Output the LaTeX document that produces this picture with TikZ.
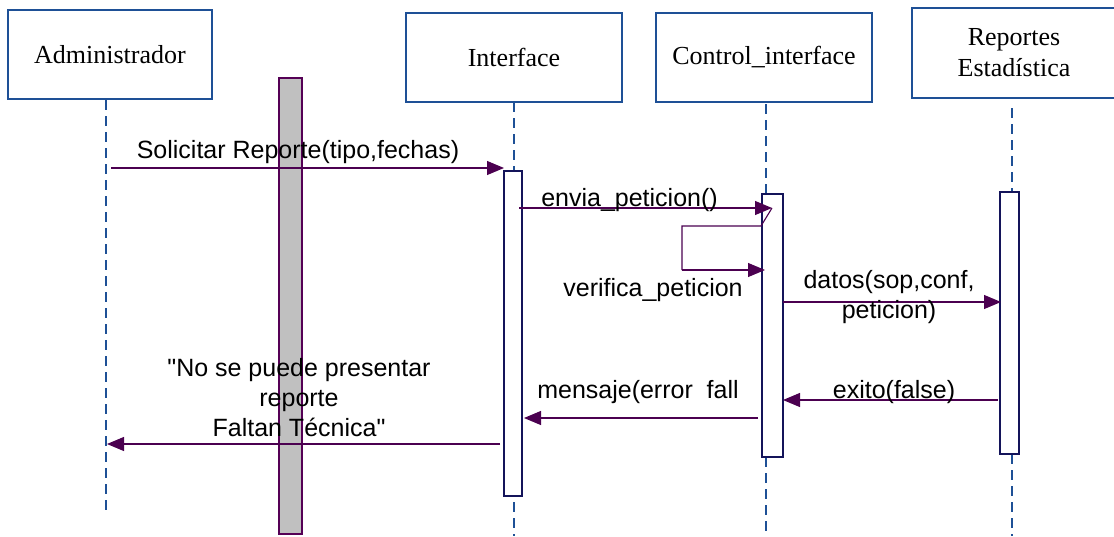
\documentclass[tikz,border=0pt]{standalone}
\usepackage{fontspec}
\setmainfont{Liberation Serif}
\newfontfamily\labelfont{Liberation Sans}[Ligatures=TeXOff]
\usetikzlibrary{arrows.meta}
\definecolor{boxblue}{RGB}{30,80,150}
\definecolor{actnavy}{RGB}{20,20,90}
\definecolor{msgpurple}{RGB}{75,0,80}
\definecolor{barborder}{RGB}{85,0,85}
\definecolor{bargray}{RGB}{192,192,192}
\tikzset{
  actor/.style={draw=boxblue, line width=1.3pt, fill=white, inner sep=0pt,
    font=\fontsize{26}{31}\selectfont\rmfamily, align=center},
  lifeline/.style={draw=boxblue, line width=1.2pt, dash pattern=on 10pt off 6pt},
  activation/.style={draw=actnavy, line width=1.2pt, fill=white, inner sep=0pt},
  msg/.style={draw=msgpurple, line width=1.1pt, -{Triangle[length=17pt,width=14pt]}},
  msgline/.style={draw=msgpurple, line width=1.1pt},
  lbl/.style={font=\fontsize{25}{30}\selectfont\labelfont, text=black, inner sep=0pt, align=center},
}
\begin{document}
\begin{tikzpicture}[x=1pt,y=-1pt]
\useasboundingbox (0,0) rectangle (1114,536);
\fill[white] (0,0) rectangle (1114,536);

% actor boxes
\node[actor, minimum width=204pt, minimum height=89pt] (admin) at (110,54.5) {Administrador};
\node[actor, minimum width=216pt, minimum height=89pt] (iface) at (514,57.5) {Interface};
\node[actor, minimum width=216pt, minimum height=89pt] (ctrl) at (764,57.5) {Control\_interface};
\node[actor, minimum width=204pt, minimum height=90pt] (rep) at (1014,53) {Reportes\\Estadística};

% lifeline coordinates
\coordinate (adminTop) at (106,100);
\coordinate (adminBot) at (106,513);
\coordinate (ifaceTop) at (514,102);
\coordinate (ifaceA) at (514,171);
\coordinate (ifaceB) at (514,502);
\coordinate (ifaceBot) at (514,536);
\coordinate (ctrlTop) at (766,104);
\coordinate (ctrlA) at (766,194);
\coordinate (ctrlB) at (766,457);
\coordinate (ctrlBot) at (766,536);
\coordinate (repTop) at (1012,108);
\coordinate (repA) at (1012,192);
\coordinate (repB) at (1012,454);
\coordinate (repBot) at (1012,536);

\draw[lifeline] (adminTop) -- (adminBot);
\draw[lifeline] (ifaceTop) -- (ifaceA);
\draw[lifeline] (ifaceB) -- (ifaceBot);
\draw[lifeline] (ctrlTop) -- (ctrlA);
\draw[lifeline] (ctrlB) -- (ctrlBot);
\draw[lifeline] (repTop) -- (repA);
\draw[lifeline] (repB) -- (repBot);

% gray bar
\node[draw=barborder, fill=bargray, line width=1.2pt, inner sep=0pt,
  minimum width=23pt, minimum height=456pt] (bar) at (290.5,306) {};

% activations
\node[activation, minimum width=18pt, minimum height=325pt] (ifaceAct) at (513,333.5) {};
\node[activation, minimum width=21pt, minimum height=263pt] (ctrlAct) at (772.5,325.5) {};
\node[activation, minimum width=19pt, minimum height=262pt] (repAct) at (1009.5,323) {};

% message endpoints
\coordinate (m1s) at (111,168);
\coordinate (m1e) at (504,168);
\coordinate (m2s) at (519,208);
\coordinate (m2e) at (772,208);
\coordinate (l1) at (761,226);
\coordinate (l2) at (682,226);
\coordinate (l3) at (682,270);
\coordinate (l4) at (765,270);
\coordinate (m4s) at (783,302);
\coordinate (m4e) at (1001,302);
\coordinate (m5s) at (998,400);
\coordinate (m5e) at (783,400);
\coordinate (m6s) at (758,418);
\coordinate (m6e) at (524,418);
\coordinate (m7s) at (500,444);
\coordinate (m7e) at (107,444);

\draw[msg] (m1s) -- (m1e);
\draw[msg] (m2s) -- (m2e);
\draw[msgline] (m2e) -- (l1) -- (l2) -- (l3);
\draw[msg] (l3) -- (l4);
\draw[msg] (m4s) -- (m4e);
\draw[msg] (m5s) -- (m5e);
\draw[msg] (m6s) -- (m6e);
\draw[msg] (m7s) -- (m7e);

% labels
\node[lbl] (t1) at (298,152) {Solicitar Reporte(tipo,fechas)};
\node[lbl] (t2) at (629.5,200) {envia\_peticion()};
\node[lbl] (t3) at (653,290) {verifica\_peticion};
\node[lbl] (t4) at (889,297) {datos(sop,conf,\\peticion)};
\node[lbl] (t5) at (894,392) {exito(false)};
\node[lbl] (t6) at (638,392) {mensaje(error\ \ fall};
\node[lbl] (t7) at (299,398) {"No se puede presentar\\reporte\\Faltan Técnica"};
\end{tikzpicture}
\end{document}
